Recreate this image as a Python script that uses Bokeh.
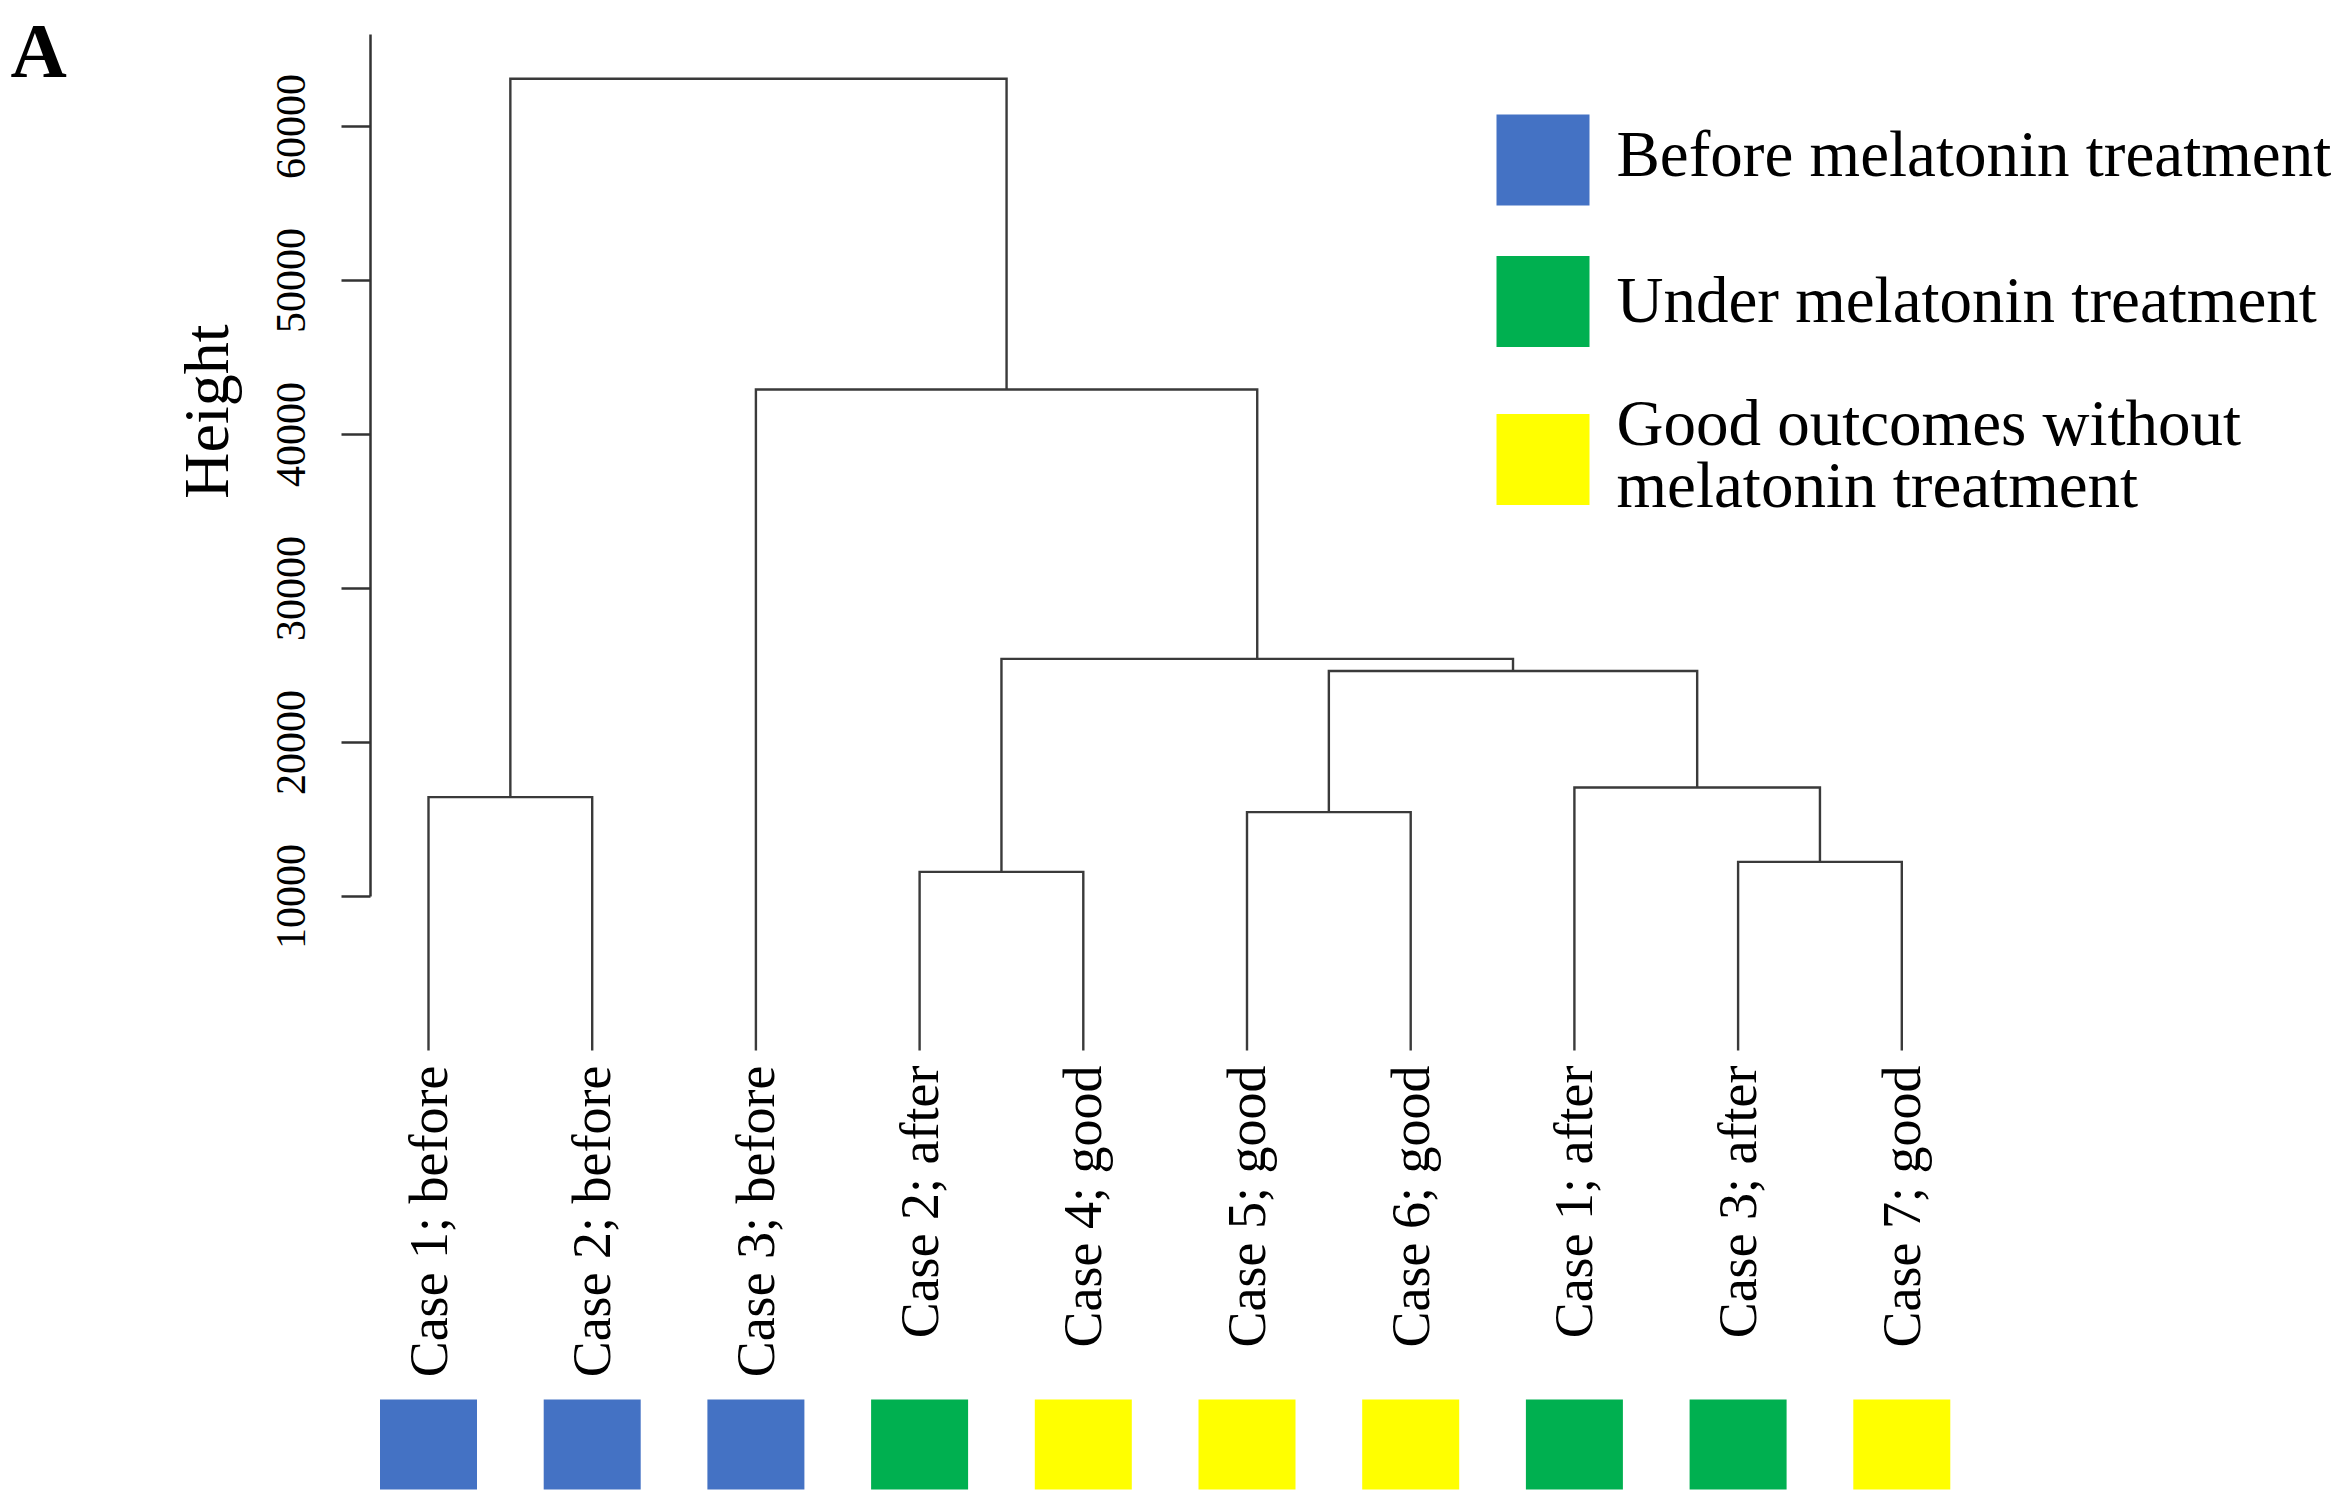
import math
from bokeh.plotting import figure
from bokeh.models import Range1d, FixedTicker, Label, BasicTickFormatter, Title
from bokeh.core.properties import value
from bokeh.embed import file_html
from bokeh.resources import INLINE

# ---------------- data ----------------
leaf_labels = ["Case 1; before", "Case 2; before", "Case 3; before", "Case 2; after",
               "Case 4; good", "Case 5; good", "Case 6; good", "Case 1; after",
               "Case 3; after", "Case 7; good"]
leaf_groups = ["before", "before", "before", "under", "good",
               "good", "good", "under", "under", "good"]
# hclust-style merges: negative = leaf (1-based), positive = earlier merge (1-based)
merge_left = [-4, -9, -6, -1, -8, 3, 1, -3, 4]
merge_right = [-5, -10, -7, -2, 2, 5, 6, 7, 8]
merge_height = [11600, 12250, 15480, 16450, 17080, 24640, 25430, 42920, 63100]

group_keys = ["before", "under", "good"]
group_names = ["Before melatonin treatment", "Under melatonin treatment",
               "Good outcomes without\nmelatonin treatment"]
group_colors = ["#4472C4", "#00B050", "#FFFF00"]

y_ticks = [10000, 20000, 30000, 40000, 50000, 60000]
axis_label = "Height"
panel_letter = "A"

# ---------------- layout helpers (page pixel -> data) ----------------
LEAF1_PX = 428.0
STEP_PX = 163.7
ZERO_PX = 1050.0
PX_PER_UNIT = 154.0 / 10000.0


def fx(px):
    return 1 + (px - LEAF1_PX) / STEP_PX


def fy(py):
    return (ZERO_PX - py) / PX_PER_UNIT


W, H = 2338, 1500
FRAME_LEFT = 370

p = figure(width=W, height=H, output_backend="svg", toolbar_location=None,
           x_range=Range1d(fx(FRAME_LEFT), fx(W)),
           y_range=Range1d(fy(H), fy(0)),
           min_border_left=FRAME_LEFT, min_border_right=0,
           min_border_top=0, min_border_bottom=0,
           x_axis_location=None, y_axis_location="left")
p.xgrid.visible = False
p.ygrid.visible = False
p.outline_line_color = None
p.background_fill_color = "white"
p.border_fill_color = "white"

# ---------------- dendrogram ----------------
centers = []


def node(ref):
    if ref < 0:
        return (float(-ref), 0.0)
    return centers[ref - 1]


seg_xs, seg_ys = [], []
for l, r, h in zip(merge_left, merge_right, merge_height):
    xl, yl = node(l)
    xr, yr = node(r)
    seg_xs.append([xl, xl, xr, xr])
    seg_ys.append([yl, h, h, yr])
    centers.append(((xl + xr) / 2.0, h))

p.multi_line(xs=seg_xs, ys=seg_ys, line_color="#3a3a3a", line_width=2.4,
             line_join="miter")

leaf_x = [float(i + 1) for i in range(len(leaf_labels))]
color_of = dict(zip(group_keys, group_colors))
leaf_colors = [color_of[g] for g in leaf_groups]

# leaf labels
p.text(x=leaf_x, y=[fy(1065)] * len(leaf_x), text=leaf_labels, angle=math.pi / 2,
       text_align="right", text_baseline="middle",
       text_font=value("Liberation Serif"), text_font_size="54px", text_color="black")

# colour bar under labels
p.rect(x=leaf_x, y=[fy((1399 + 1489) / 2)] * len(leaf_x), width=97 / STEP_PX,
       height=90 / PX_PER_UNIT, fill_color=leaf_colors, line_color=None)

# ---------------- legend ----------------
sq_centers = [159.5, 301.0, 459.0]
p.rect(x=[fx(1542.5)] * 3, y=[fy(c) for c in sq_centers], width=93 / STEP_PX,
       height=91 / PX_PER_UNIT, fill_color=group_colors, line_color=None)

leg_lines, leg_y = [], []
baselines = [[153], [299], [422, 484]]
for name, bl in zip(group_names, baselines):
    for line, b in zip(name.split("\n"), bl):
        leg_lines.append(line)
        leg_y.append(fy(b))
p.text(x=[fx(1616)] * len(leg_lines), y=leg_y, text=leg_lines,
       text_align="left", text_baseline="alphabetic",
       text_font=value("Liberation Serif"), text_font_size="65px", text_color="black")

# ---------------- axis ----------------
ax = p.yaxis[0]
ax.ticker = FixedTicker(ticks=y_ticks)
ax.formatter = BasicTickFormatter(use_scientific=False)
ax.bounds = (10000, 66000)
ax.major_label_orientation = "vertical"
ax.major_label_text_font = "Liberation Serif"
ax.major_label_text_font_size = "42px"
ax.major_label_text_color = "black"
ax.major_label_standoff = 37
ax.major_tick_out = 29
ax.major_tick_in = 0
ax.minor_tick_line_color = None
ax.axis_line_width = 2.5
ax.axis_line_color = "#333333"
ax.major_tick_line_width = 2.5
ax.major_tick_line_color = "#333333"

p.add_layout(Title(text=axis_label, align="right", offset=324,
                   text_font="Liberation Serif", text_font_size="64px",
                   text_font_style="normal", text_color="black", standoff=63), "left")

p.add_layout(Label(x=fx(10), y=fy(50), text=panel_letter, text_align="left",
                   text_baseline="alphabetic", text_font="Liberation Serif",
                   text_font_size="78px", text_font_style="bold", text_color="black"),
             "left")

open("out.html", "w").write(file_html(p, INLINE))
